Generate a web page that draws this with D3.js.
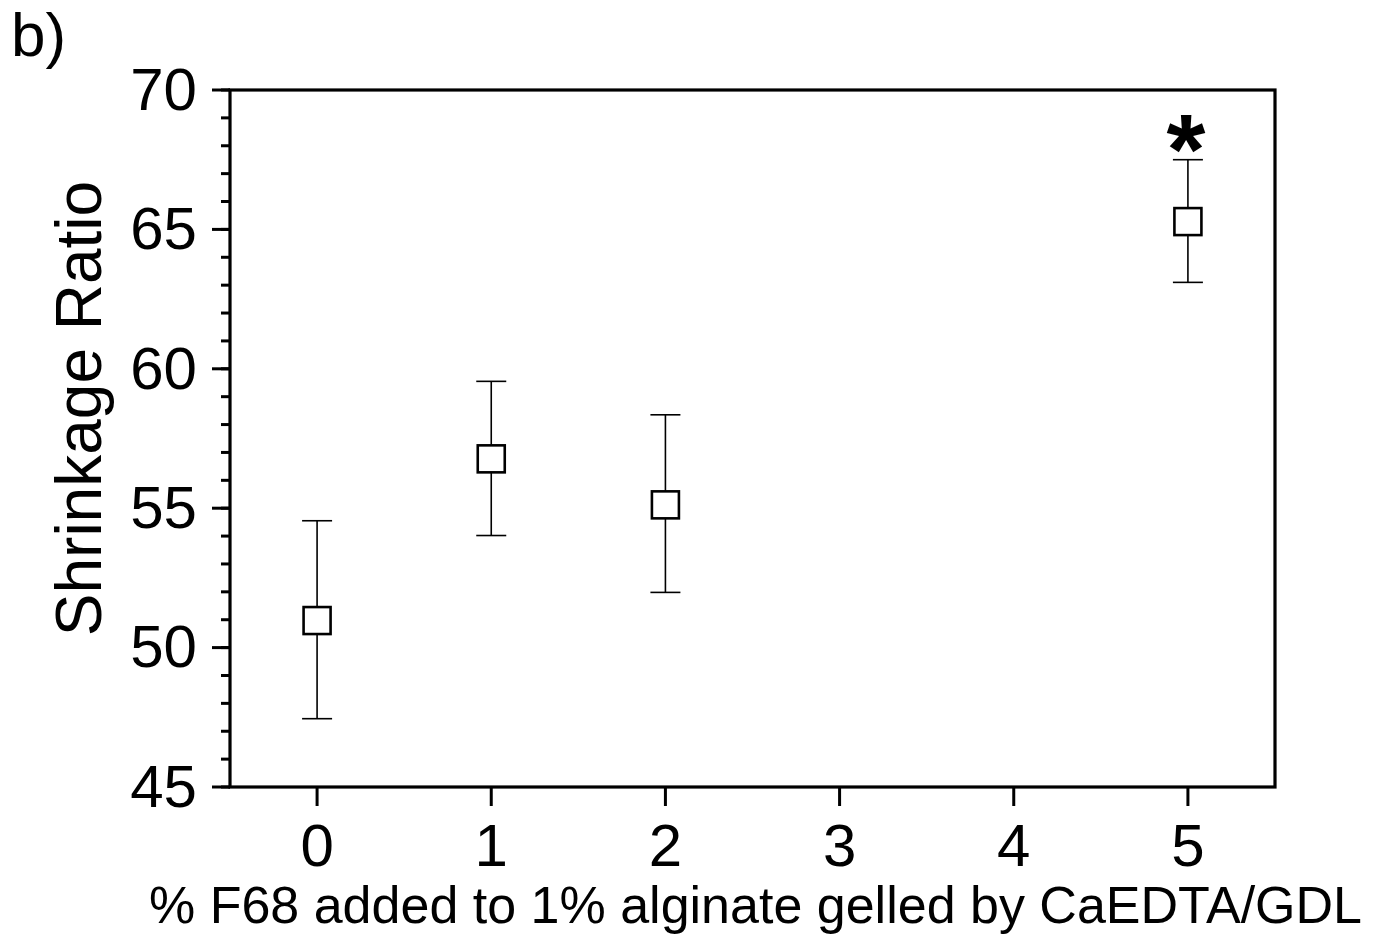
<!DOCTYPE html>
<html>
<head>
<meta charset="utf-8">
<script src="https://cdn.jsdelivr.net/npm/d3@7"></script>
<style>
  html, body { margin: 0; padding: 0; background: #fff; }
  svg { display: block; font-family: Arial, "Liberation Sans", sans-serif; }
</style>
</head>
<body>
<svg id="chart" width="1378" height="937"></svg>
<script>
// Data
const xValues = [0, 1, 2, 5];
const meanValues = [50.97, 56.77, 55.12, 65.28];
const upperValues = [54.55, 59.55, 58.35, 67.5];
const lowerValues = [47.45, 54.02, 51.98, 63.1];
const xTicks = [0, 1, 2, 3, 4, 5];
const yTicks = [45, 50, 55, 60, 65, 70];
const yMinorTicks = d3.range(45, 70.001, 1);
const significant = [false, false, false, true];
const xTitle = "% F68 added to 1% alginate gelled by CaEDTA/GDL";
const yTitle = "Shrinkage Ratio";
const panelLabel = "b)";

const svg = d3.select("#chart");
const mLeft = 230, mRight = 1275, mTop = 90, mBottom = 787;

const x = d3.scaleLinear().domain([-0.5, 5.5]).range([mLeft, mRight]);
const y = d3.scaleLinear().domain([45, 70]).range([mBottom, mTop]);

// Frame
svg.append("rect")
  .attr("x", mLeft).attr("y", mTop)
  .attr("width", mRight - mLeft).attr("height", mBottom - mTop)
  .attr("fill", "none").attr("stroke", "#000").attr("stroke-width", 3.2);

// Y axis
const yAxis = svg.append("g").attr("transform", `translate(${mLeft},0)`);
yAxis.selectAll("line.minor").data(yMinorTicks).join("line")
  .attr("class", "minor")
  .attr("x1", -9).attr("x2", 0)
  .attr("y1", d => y(d)).attr("y2", d => y(d))
  .attr("stroke", "#000").attr("stroke-width", 3);
yAxis.selectAll("line.major").data(yTicks).join("line")
  .attr("class", "major")
  .attr("x1", -18).attr("x2", 0)
  .attr("y1", d => y(d)).attr("y2", d => y(d))
  .attr("stroke", "#000").attr("stroke-width", 3);
yAxis.selectAll("text").data(yTicks).join("text")
  .attr("x", -33).attr("y", d => y(d))
  .attr("dy", "0.33em")
  .attr("text-anchor", "end")
  .attr("font-size", 60)
  .text(d => d);

// X axis
const xAxis = svg.append("g").attr("transform", `translate(0,${mBottom})`);
xAxis.selectAll("line").data(xTicks).join("line")
  .attr("x1", d => x(d)).attr("x2", d => x(d))
  .attr("y1", 0).attr("y2", 19)
  .attr("stroke", "#000").attr("stroke-width", 3);
xAxis.selectAll("text").data(xTicks).join("text")
  .attr("x", d => x(d)).attr("y", 79)
  .attr("text-anchor", "middle")
  .attr("font-size", 60)
  .text(d => d);

// Titles
svg.append("text")
  .attr("x", (mLeft + mRight) / 2 + 3).attr("y", 923)
  .attr("text-anchor", "middle")
  .attr("font-size", 52)
  .text(xTitle);

svg.append("text")
  .attr("transform", `translate(101,${(183 + 634) / 2}) rotate(-90)`)
  .attr("text-anchor", "middle")
  .attr("font-size", 64)
  .text(yTitle);

svg.append("text")
  .attr("x", 11).attr("y", 56)
  .attr("font-size", 62)
  .text(panelLabel);

// Error bars
const pts = xValues.map((v, i) => ({ x: v, m: meanValues[i], hi: upperValues[i], lo: lowerValues[i], sig: significant[i] }));
const eb = svg.append("g").attr("stroke", "#000").attr("stroke-width", 1.6);
eb.selectAll("line.v").data(pts).join("line").attr("class", "v")
  .attr("x1", d => x(d.x)).attr("x2", d => x(d.x))
  .attr("y1", d => y(d.hi)).attr("y2", d => y(d.lo));
eb.selectAll("line.ct").data(pts).join("line").attr("class", "ct")
  .attr("x1", d => x(d.x) - 15).attr("x2", d => x(d.x) + 15)
  .attr("y1", d => y(d.hi)).attr("y2", d => y(d.hi));
eb.selectAll("line.cb").data(pts).join("line").attr("class", "cb")
  .attr("x1", d => x(d.x) - 15).attr("x2", d => x(d.x) + 15)
  .attr("y1", d => y(d.lo)).attr("y2", d => y(d.lo));

// Markers
const s = 27;
svg.append("g").selectAll("rect").data(pts).join("rect")
  .attr("x", d => x(d.x) - s / 2).attr("y", d => y(d.m) - s / 2)
  .attr("width", s).attr("height", s)
  .attr("fill", "#fff").attr("stroke", "#000").attr("stroke-width", 2.6);

// Significance asterisk
svg.append("g").selectAll("text").data(pts.filter(d => d.sig)).join("text")
  .attr("x", d => x(d.x) - 2).attr("y", d => y(d.hi) + 24)
  .attr("text-anchor", "middle")
  .attr("font-size", 100)
  .attr("font-weight", "bold")
  .text("*");
</script>
</body>
</html>
